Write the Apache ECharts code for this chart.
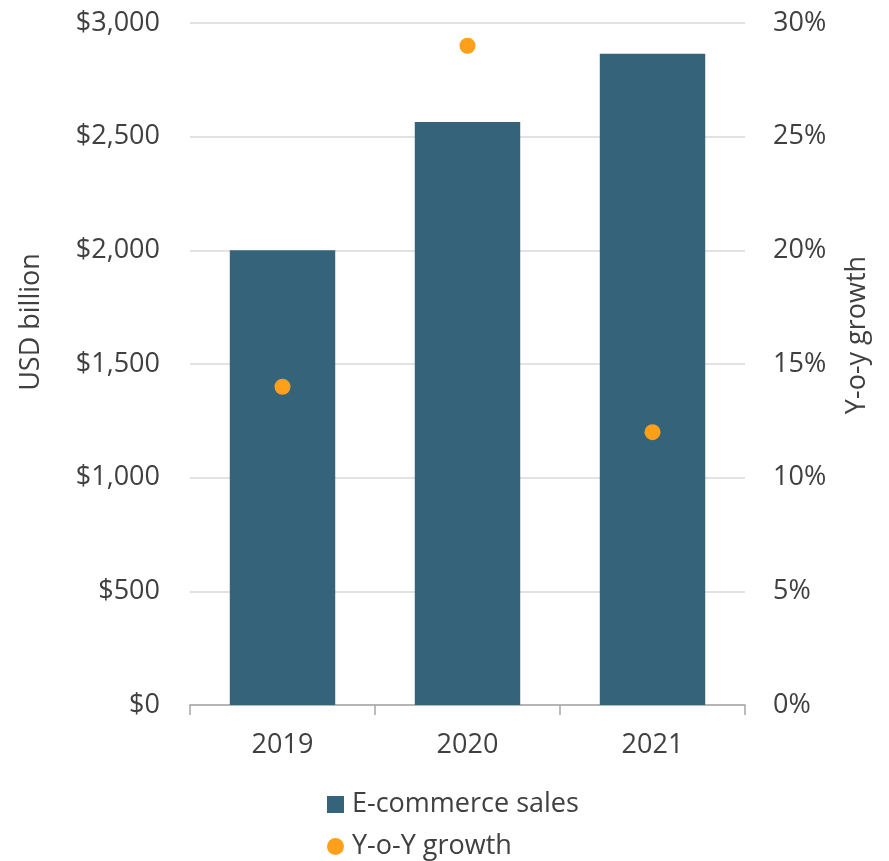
<!DOCTYPE html>
<html>
<head>
<meta charset="utf-8">
<script src="https://cdn.jsdelivr.net/npm/echarts@6/dist/echarts.min.js"></script>
<style>
  html, body { margin: 0; padding: 0; background: #fff; }
  #chart { width: 889px; height: 861px; }
</style>
</head>
<body>
<div id="chart"></div>
<script>
// Annual e-commerce sales (USD billion) and year-over-year growth (%)
const years = ['2019', '2020', '2021'];
const salesUsdBn = [2000, 2565, 2865];
const yoyGrowthPct = [14, 29, 12];

const FONT = '"Open Sans", "Noto Sans", sans-serif';
const TEXT = '#404040';
const BAR = '#35637A';
const DOT = '#FF9F1A';
const FS = 27;

// One legend row per series, stacked under the plot
const legendRow = (name, icon, top) => ({
  left: 327,
  top: top,
  padding: 0,
  itemWidth: 17,
  itemHeight: 17,
  itemGap: 0,
  textStyle: { fontFamily: FONT, fontSize: FS, color: TEXT, padding: [0, 0, 0, 3] },
  data: [{ name: name, icon: icon }]
});

const chart = echarts.init(document.getElementById('chart'));
chart.setOption({
  animation: false,
  textStyle: { fontFamily: FONT, color: TEXT },
  grid: { left: 190, right: 144, top: 23, bottom: 156 },
  legend: [
    legendRow('E-commerce sales', 'rect', 791),
    legendRow('Y-o-Y growth', 'circle', 833)
  ],
  xAxis: {
    type: 'category',
    data: years,
    axisLine: { lineStyle: { color: '#A6A6A6', width: 1.5 } },
    axisTick: { show: true, length: 10, lineStyle: { color: '#A6A6A6', width: 1.5 } },
    axisLabel: { fontSize: FS, color: TEXT, margin: 27 }
  },
  yAxis: [
    {
      type: 'value',
      min: 0, max: 3000, interval: 500,
      name: 'USD billion',
      nameLocation: 'middle',
      nameGap: 145,
      nameRotate: 90,
      nameTextStyle: { fontSize: FS, color: TEXT, padding: [0, 0, 0, 84] },
      axisLine: { show: false },
      axisTick: { show: false },
      axisLabel: {
        fontSize: FS, color: TEXT, margin: 30,
        formatter: v => '$' + v.toLocaleString('en-US')
      },
      splitLine: { lineStyle: { color: '#D9D9D9', width: 1.5 } }
    },
    {
      type: 'value',
      min: 0, max: 30, interval: 5,
      name: 'Y-o-y growth',
      nameLocation: 'middle',
      nameGap: 99,
      nameRotate: 90,
      nameTextStyle: { fontSize: FS, color: TEXT, padding: [0, 0, 0, 58] },
      axisLine: { show: false },
      axisTick: { show: false },
      axisLabel: { fontSize: FS, color: TEXT, margin: 28, formatter: '{value}%' },
      splitLine: { show: false }
    }
  ],
  series: [
    {
      name: 'E-commerce sales',
      type: 'bar',
      yAxisIndex: 0,
      data: salesUsdBn,
      barWidth: '57%',
      itemStyle: { color: BAR }
    },
    {
      name: 'Y-o-Y growth',
      type: 'scatter',
      yAxisIndex: 1,
      data: yoyGrowthPct,
      symbol: 'circle',
      symbolSize: 16,
      itemStyle: { color: DOT, opacity: 1 }
    }
  ]
});
</script>
</body>
</html>
